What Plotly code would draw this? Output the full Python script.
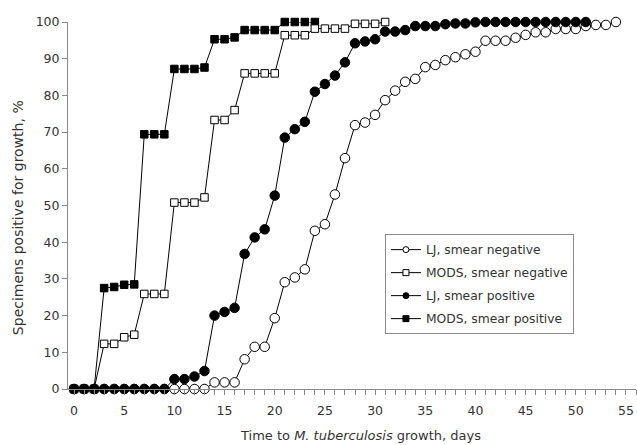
import plotly.graph_objects as go

# Days
days_lj_neg = list(range(0, 55))
days_mods_neg = list(range(0, 32))
days_lj_pos = list(range(0, 52))
days_mods_pos = list(range(0, 25))

# Cumulative % positive
lj_neg = [0, 0, 0, 0, 0, 0, 0, 0, 0, 0,
          0, 0, 0, 0, 1.8, 1.8, 1.8, 8.1, 11.5, 11.5,
          19.3, 29.1, 30.4, 32.6, 43.1, 44.9, 53.0, 62.9, 71.9, 72.6,
          74.7, 78.7, 81.3, 83.7, 84.5, 87.7, 88.3, 89.6, 90.4, 91.2,
          91.9, 94.9, 94.9, 94.9, 95.7, 96.5, 97.2, 97.2, 98.1, 98.1,
          98.1, 98.9, 99.2, 99.2, 100]
mods_neg = [0, 0, 0, 12.3, 12.3, 14.1, 14.8, 25.9, 25.9, 25.9,
            50.8, 50.8, 50.8, 52.2, 73.3, 73.3, 76.0, 86.0, 86.0, 86.0,
            86.0, 96.4, 96.4, 96.4, 98.2, 98.2, 98.2, 98.2, 99.5, 99.5,
            99.5, 100]
lj_pos = [0, 0, 0, 0, 0, 0, 0, 0, 0, 0,
          2.7, 2.7, 3.4, 4.9, 20.0, 21.0, 22.1, 36.8, 41.3, 43.5,
          52.7, 68.5, 70.8, 72.8, 81.0, 83.1, 85.4, 89.0, 94.2, 94.7,
          95.3, 97.4, 97.4, 97.8, 98.9, 98.9, 98.9, 99.4, 99.6, 99.6,
          99.9, 100, 100, 100, 100, 100, 100, 100, 100, 100,
          100, 100]
mods_pos = [0, 0, 0, 27.5, 27.8, 28.4, 28.5, 69.4, 69.4, 69.4,
            87.2, 87.2, 87.2, 87.6, 95.3, 95.3, 95.8, 97.8, 97.8, 97.8,
            97.8, 100, 100, 100, 100]

names = ["LJ, smear negative", "MODS, smear negative",
         "LJ, smear positive", "MODS, smear positive"]
x_title = "Time to <i>M. tuberculosis</i> growth, days"
y_title = "Specimens positive for growth, %"

fig = go.Figure()

series = [
    (days_mods_pos, mods_pos, "square", "black", 7.5),
    (days_mods_neg, mods_neg, "square", "white", 7.5),
    (days_lj_neg, lj_neg, "circle", "white", 9.5),
    (days_lj_pos, lj_pos, "circle", "black", 9.5),
]
for xs, ys, sym, fill, sz in series:
    fig.add_trace(go.Scatter(
        x=xs, y=ys, mode="lines+markers", showlegend=False,
        line=dict(color="black", width=1),
        marker=dict(symbol=sym, size=sz, color=fill,
                    line=dict(color="black", width=1)),
        cliponaxis=False, hoverinfo="skip"))

legend_styles = [("circle", "white"), ("square", "white"),
                 ("circle", "black"), ("square", "black")]
for i, (nm, (sym, fill)) in enumerate(zip(names, legend_styles)):
    fig.add_trace(go.Scatter(
        x=[None], y=[None], mode="lines+markers", name=nm,
        legendgroup=f"g{i}",
        line=dict(color="black", width=1),
        marker=dict(symbol=sym, size=6, color=fill,
                    line=dict(color="black", width=1))))

axis_col = "#8a8a8a"
txt_col = "#333333"
FONT = "DejaVu Sans, Liberation Sans, Arial, sans-serif"

fig.update_layout(
    width=637, height=445,
    margin=dict(l=68, r=1, t=22, b=56),
    paper_bgcolor="white", plot_bgcolor="white",
    font=dict(family=FONT, size=12, color=txt_col),
    legend=dict(x=0.558, y=0.422, xanchor="left", yanchor="top",
                bordercolor=axis_col, borderwidth=1, bgcolor="white",
                font=dict(family=FONT, size=12.3, color=txt_col),
                traceorder="grouped", tracegroupgap=4),
    xaxis=dict(range=[-0.6, 56.0], showgrid=False, zeroline=False,
               automargin=False,
               showline=True, linecolor=axis_col, linewidth=1,
               tickmode="linear", tick0=0, dtick=5,
               ticks="outside", ticklen=5, tickcolor=axis_col,
               ticklabelstandoff=5,
               minor=dict(dtick=1, tick0=0, ticks="outside", ticklen=5,
                          tickcolor=axis_col, showgrid=False),
               tickfont=dict(size=12.5, color=txt_col)),
    yaxis=dict(range=[0, 100], showgrid=False, zeroline=False,
               automargin=False,
               showline=True, linecolor=axis_col, linewidth=1,
               tickmode="linear", tick0=0, dtick=10,
               ticks="outside", ticklen=5, tickcolor=axis_col,
               tickfont=dict(size=12.5, color=txt_col)),
    annotations=[
        dict(text=x_title, xref="paper", yref="paper",
             x=(360 - 68) / 568, y=0, yshift=-46,
             xanchor="center", yanchor="middle", showarrow=False,
             font=dict(family=FONT, size=13, color=txt_col)),
        dict(text=y_title, xref="paper", yref="paper",
             x=0, xshift=-50, y=(389 - 218) / 367.3,
             xanchor="center", yanchor="middle", textangle=-90,
             showarrow=False,
             font=dict(family=FONT, size=14, color=txt_col)),
    ],
)

fig.write_html("out.html",
               config={"displayModeBar": False},
               post_script="document.body.style.margin='0';"
                           "document.body.style.padding='0';")
